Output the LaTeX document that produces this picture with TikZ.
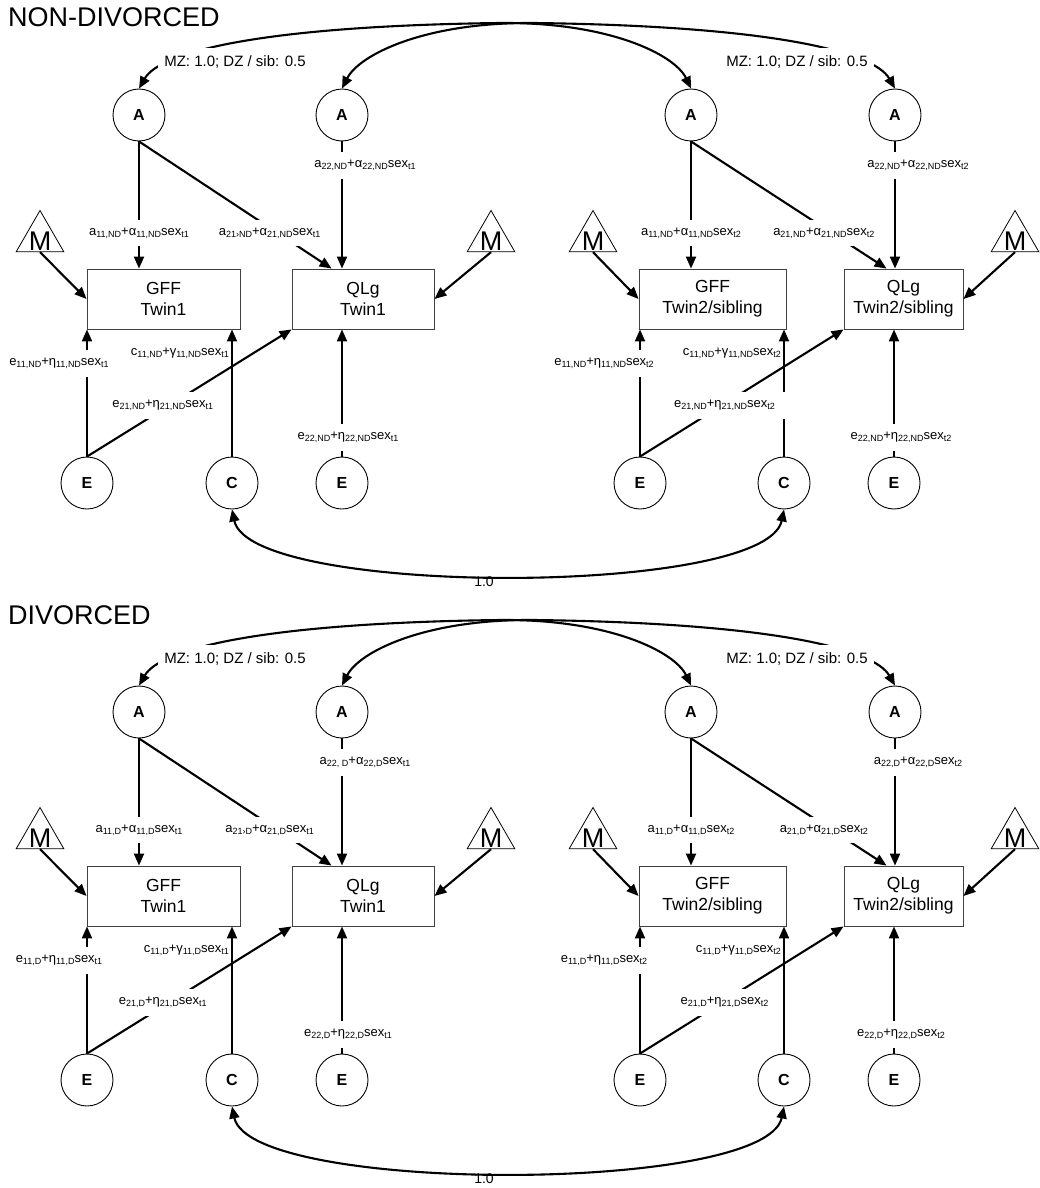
\documentclass[tikz,border=0pt]{standalone}
\usepackage{fontspec}
\setmainfont{Liberation Sans}
\usetikzlibrary{arrows.meta,shapes.geometric}

% subindices pequeños
\newcommand\lsub[1]{\raisebox{-0.3ex}{\fontsize{9}{9}\selectfont #1}}
% coeficiente de ruta
\newcommand\ruta[5]{#1\lsub{#2}+#3\lsub{#4}sex\lsub{#5}}

\begin{document}
\begin{tikzpicture}[
    x=1pt, y=-1pt,
    % factores latentes
    latente/.style={circle, draw, line width=0.9pt, minimum size=52pt, inner sep=0pt, font=\fontsize{16}{16}\selectfont\bfseries},
    % variables medidas
    medida/.style={rectangle, draw=black!75, line width=0.9pt, minimum height=60pt, align=center, inner sep=0pt, font=\fontsize{17.5}{21}\selectfont},
    % medias
    media/.style={regular polygon, regular polygon sides=3, draw, line width=0.8pt, minimum size=55pt, inner sep=0pt,
        label={[anchor=south, inner sep=0pt, yshift=1pt, font=\fontsize{27}{27}\selectfont]south:M}},
    flecha/.style={draw, line width=2.1pt, -{Triangle[length=12pt, width=10pt]}},
    doble/.style={draw, line width=2.1pt, {Triangle[length=12pt, width=10pt]}-{Triangle[length=12pt, width=10pt]}},
    coef/.style={fill=white, inner xsep=12pt, inner ysep=8pt, font=\fontsize{13}{14}\selectfont},
    nota/.style={anchor=east, inner sep=2pt, font=\fontsize{13}{14}\selectfont},
    titulo/.style={anchor=base west, inner sep=0pt, font=\fontsize{27}{30}\selectfont}
]
\useasboundingbox (0,0) rectangle (1039,1188);

\foreach \g/\dy/\tit/\q in {ND/0/NON-DIVORCED/{22,ND}, D/597/DIVORCED/{22, D}}{
\begin{scope}[shift={(0,\dy)}]
    \node [titulo] (tit\g) at (8,27) {\tit};

    \node [latente] (aG1\g) at (139,115) {A};
    \node [latente] (aQ1\g) at (342,115) {A};
    \node [latente] (aG2\g) at (691,115) {A};
    \node [latente] (aQ2\g) at (895,115) {A};
    \node [medida, minimum width=153pt] (gff1\g) at (163.5,299) {GFF\\Twin1};
    \node [medida, minimum width=142pt] (qlg1\g) at (363,299) {QLg\\Twin1};
    \node [medida, minimum width=147pt] (gff2\g) at (712.5,299) {GFF\\Twin2/sibling};
    \node [medida, minimum width=119pt] (qlg2\g) at (903.5,299) {QLg\\Twin2/sibling};
    \node [media] (mG1\g) at (40,238) {};
    \node [media] (mQ1\g) at (491,238) {};
    \node [media] (mG2\g) at (593,238) {};
    \node [media] (mQ2\g) at (1015,238) {};
    \node [latente] (eG1\g) at (87,483) {E};
    \node [latente] (c1\g) at (232,483) {C};
    \node [latente] (eQ1\g) at (342,483) {E};
    \node [latente] (eG2\g) at (640,483) {E};
    \node [latente] (c2\g) at (784,483) {C};
    \node [latente] (eQ2\g) at (894,483) {E};

    % gemelo 1
    \draw [flecha] (mG1\g.south) -- (gff1\g.west);
    \draw [flecha] (mQ1\g.south) -- (qlg1\g.east);
    \draw [flecha] (aG1\g) -- node [coef, pos=0.72] {\ruta{a}{11,\g}{α}{11,\g}{t1}} (aG1\g |- gff1\g.north);
    \draw [flecha] (aG1\g.south) -- node [coef, pos=0.72, xshift=-8] {\ruta{a}{21›\g}{α}{21,\g}{t1}} ([xshift=40]qlg1\g.north west);
    \draw [flecha] (aQ1\g) -- node [coef, pos=0.19, xshift=23] {\ruta{a}{\q}{α}{22,\g}{t1}} (qlg1\g.north -| aQ1\g);
    \draw [flecha] (c1\g) -- node [nota, pos=0.81] {\ruta{c}{11,\g}{γ}{11,\g}{t1}} (c1\g |- gff1\g.south);
    \draw [flecha] (eG1\g) -- node [coef, pos=0.73, xshift=-28] {\ruta{e}{11,\g}{η}{11,\g}{t1}} (eG1\g |- gff1\g.south);
    \draw [flecha] (eG1\g.north) -- node [coef, pos=0.40, xshift=-6] {\ruta{e}{21,\g}{η}{21,\g}{t1}} (qlg1\g.south west);
    \draw [flecha] (eQ1\g) -- node [coef, pos=0.15, xshift=6] {\ruta{e}{22,\g}{η}{22,\g}{t1}} (eQ1\g |- qlg1\g.south);

    % gemelo 2 / hermano
    \draw [flecha] (mG2\g.south) -- (gff2\g.west);
    \draw [flecha] (mQ2\g.south) -- (qlg2\g.east);
    \draw [flecha] (aG2\g) -- node [coef, pos=0.72] {\ruta{a}{11,\g}{α}{11,\g}{t2}} (aG2\g |- gff2\g.north);
    \draw [flecha] (aG2\g.south) -- node [coef, pos=0.72, xshift=-8] {\ruta{a}{21,\g}{α}{21,\g}{t2}} ([xshift=43]qlg2\g.north west);
    \draw [flecha] (aQ2\g) -- node [coef, pos=0.19, xshift=23] {\ruta{a}{22,\g}{α}{22,\g}{t2}} (qlg2\g.north -| aQ2\g);
    \draw [flecha] (c2\g) -- node [nota, pos=0.81] {\ruta{c}{11,\g}{γ}{11,\g}{t2}} (c2\g |- gff2\g.south);
    \draw [flecha] (eG2\g) -- node [coef, pos=0.73, xshift=-36] {\ruta{e}{11,\g}{η}{11,\g}{t2}} (eG2\g |- gff2\g.south);
    \draw [flecha] (eG2\g.north) -- node [coef, pos=0.40, xshift=3] {\ruta{e}{21,\g}{η}{21,\g}{t2}} (qlg2\g.south west);
    \draw [flecha] (eQ2\g) -- node [coef, pos=0.15, xshift=7] {\ruta{e}{22,\g}{η}{22,\g}{t2}} (eQ2\g |- qlg2\g.south);

    % correlaciones
    \draw [doble] (aG1\g.north) .. controls (160,52) and (260,26) .. (500,23) .. controls (610,22) and (675,55) .. (aG2\g.north);
    \draw [doble] (aQ1\g.north) .. controls (359,55) and (424,22) .. (534,23) .. controls (774,26) and (874,52) .. (aQ2\g.north);
    \node [coef, inner xsep=6pt, font=\fontsize{15}{16}\selectfont] (mz1\g) at (235,62) {MZ: 1.0; DZ / sib: 0.5};
    \node [coef, inner xsep=6pt, font=\fontsize{15}{16}\selectfont] (mz2\g) at (797,62) {MZ: 1.0; DZ / sib: 0.5};
    \draw [doble] (c1\g.south) .. controls (250,597) and (766,597) .. node [pos=0.47, anchor=north, inner sep=0.5pt, font=\fontsize{14}{14}\selectfont] {1.0} (c2\g.south);
\end{scope}
}
\end{tikzpicture}
\end{document}
